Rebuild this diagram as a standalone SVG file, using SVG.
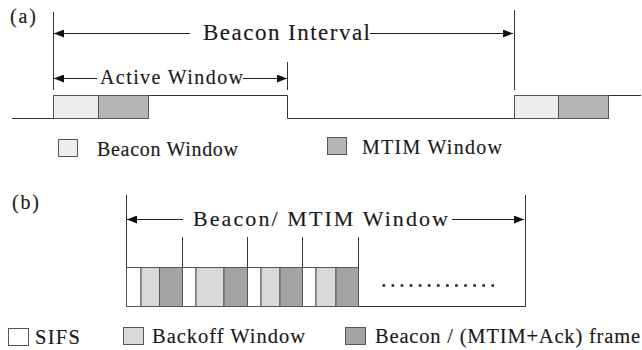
<svg xmlns="http://www.w3.org/2000/svg" width="642" height="350" viewBox="0 0 642 350">
<defs>
<style>
text{font-family:"Liberation Serif","Times New Roman","DejaVu Serif",serif;fill:#1a1a1a;stroke:#1a1a1a;stroke-width:0.15}
.ln{stroke:#333;stroke-width:1;fill:none}
.bx{stroke:#555;stroke-width:1}
.bw{fill:#ededef}
.mt{fill:#b5b5b7}
.sf{fill:#ffffff}
.bo{fill:#d9d9db}
.fr{fill:#a3a3a5}
.ar{stroke:#222;stroke-width:1;fill:none}
</style>
<marker id="ah" viewBox="0 0 10 8" refX="10" refY="4" markerWidth="10" markerHeight="8" markerUnits="userSpaceOnUse" orient="auto">
<path d="M0,0 L10,4 L0,8 Z" fill="#111"/>
</marker>
</defs>
<rect width="642" height="350" fill="#fff"/>

<g id="part-a">
<text x="10" y="23" font-size="20" textLength="26" lengthAdjust="spacing">(a)</text>
<g id="timeline-a">
<path class="ln" d="M12 118.5 H53.5 V95.5 H287.5 V118.5 H514.5 V95.5 H641"/>
<line class="ln" x1="53.5" y1="12" x2="53.5" y2="90"/>
<line class="ln" x1="514.5" y1="10" x2="514.5" y2="90"/>
<line class="ln" x1="287.5" y1="62" x2="287.5" y2="90"/>
<rect class="bx bw" x="53.5" y="95.5" width="45" height="23"/>
<rect class="bx mt" x="98.5" y="95.5" width="50" height="23"/>
<rect class="bx bw" x="514.5" y="95.5" width="44" height="23"/>
<rect class="bx mt" x="558.5" y="95.5" width="50" height="23"/>
</g>
<text x="203" y="39.5" font-size="23" textLength="167" lengthAdjust="spacing">Beacon Interval</text>
<text x="100" y="83.5" font-size="20" textLength="143" lengthAdjust="spacing">Active Window</text>
<g id="legend-a">
<rect class="bx bw" x="58.5" y="139.5" width="19" height="17"/>
<text x="97" y="155.5" font-size="20" textLength="141" lengthAdjust="spacing">Beacon Window</text>
<rect class="bx mt" x="327.5" y="137.5" width="19" height="17"/>
<text x="362" y="153.5" font-size="20" textLength="140" lengthAdjust="spacing">MTIM Window</text>
</g>
</g>

<g id="part-b">
<text x="12" y="209" font-size="20" textLength="27" lengthAdjust="spacing">(b)</text>
<g id="timeline-b">
<line class="ln" x1="126.5" y1="195" x2="126.5" y2="306"/>
<line class="ln" x1="525.5" y1="195" x2="525.5" y2="306"/>
<line class="ln" x1="126" y1="306.5" x2="526" y2="306.5"/>
<line class="ln" x1="182.5" y1="237" x2="182.5" y2="267"/>
<line class="ln" x1="247.5" y1="237" x2="247.5" y2="267"/>
<line class="ln" x1="302.5" y1="237" x2="302.5" y2="267"/>
<line class="ln" x1="358.5" y1="237" x2="358.5" y2="267"/>
<rect class="bx sf" x="126.5" y="267.5" width="14.5" height="39"/>
<rect class="bx bo" x="141" y="267.5" width="18.5" height="39"/>
<rect class="bx fr" x="159.5" y="267.5" width="23" height="39"/>
<rect class="bx sf" x="182.5" y="267.5" width="13.5" height="39"/>
<rect class="bx bo" x="196" y="267.5" width="28" height="39"/>
<rect class="bx fr" x="224" y="267.5" width="23.5" height="39"/>
<rect class="bx sf" x="247.5" y="267.5" width="13.5" height="39"/>
<rect class="bx bo" x="261" y="267.5" width="19" height="39"/>
<rect class="bx fr" x="280" y="267.5" width="22.5" height="39"/>
<rect class="bx sf" x="302.5" y="267.5" width="13.5" height="39"/>
<rect class="bx bo" x="316" y="267.5" width="20" height="39"/>
<rect class="bx fr" x="336" y="267.5" width="22.5" height="39"/>
<line x1="382.5" y1="285.5" x2="494" y2="285.5" stroke="#222" stroke-width="2.6" stroke-dasharray="2.6 6.48"/>
</g>
<text x="193" y="226" font-size="22" textLength="255" lengthAdjust="spacing">Beacon/ MTIM Window</text>
<g id="legend-b">
<rect class="bx sf" x="8.5" y="328.5" width="20" height="17"/>
<text x="35" y="343.5" font-size="20.5" textLength="45" lengthAdjust="spacing">SIFS</text>
<rect class="bx bo" x="123.5" y="327.5" width="20" height="17"/>
<text x="152" y="343" font-size="20.5" textLength="153" lengthAdjust="spacing">Backoff Window</text>
<rect class="bx fr" x="345.5" y="327.5" width="20" height="17"/>
<text x="375" y="343" font-size="20.5" textLength="265" lengthAdjust="spacing">Beacon / (MTIM+Ack) frame</text>
</g>
</g>

<g id="connectors">
<line class="ar" x1="190" y1="33.5" x2="54" y2="33.5" marker-end="url(#ah)"/>
<line class="ar" x1="370" y1="33.5" x2="513" y2="33.5" marker-end="url(#ah)"/>
<line class="ar" x1="97" y1="78.5" x2="54" y2="78.5" marker-end="url(#ah)"/>
<line class="ar" x1="243" y1="78.5" x2="287" y2="78.5" marker-end="url(#ah)"/>
<line class="ar" x1="183" y1="219.5" x2="127" y2="219.5" marker-end="url(#ah)"/>
<line class="ar" x1="452" y1="219.5" x2="524" y2="219.5" marker-end="url(#ah)"/>
</g>
</svg>
